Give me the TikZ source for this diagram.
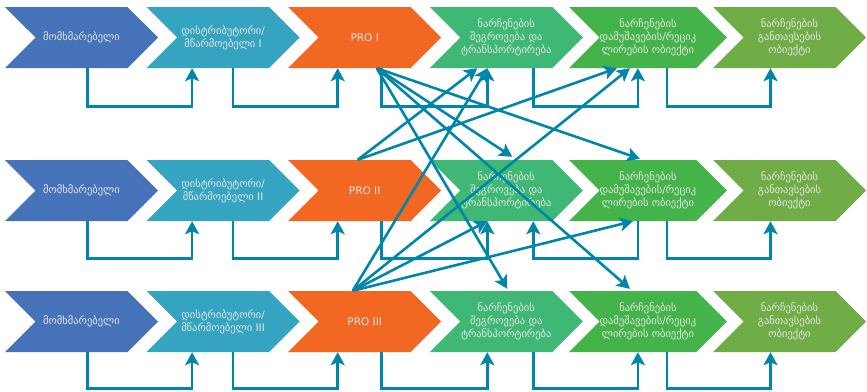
\documentclass[tikz,border=0pt]{standalone}
\usepackage{fontspec}
\setmainfont{DejaVu Sans}
\usepackage{tikz}
\usetikzlibrary{shapes.symbols,arrows.meta}

\definecolor{conblue}{RGB}{70,114,185}
\definecolor{disteal}{RGB}{52,164,192}
\definecolor{proorange}{RGB}{242,103,34}
\definecolor{colgreen}{RGB}{62,184,116}
\definecolor{prcgreen}{RGB}{68,179,74}
\definecolor{dspgreen}{RGB}{112,173,71}
\definecolor{linkblue}{RGB}{0,134,170}

\tikzset{
  chev/.style={signal, signal from=west, signal to=east, signal pointer angle=90,
    minimum width=153pt, minimum height=61pt, inner sep=0pt, draw=none,
    text=white!90!black, align=center, font=\fontsize{10.5}{13}\selectfont},
  fb/.style={draw=linkblue, line width=2.6pt,
    -{Stealth[length=13pt,width=14pt,inset=3pt]}},
}

\begin{document}
\begin{tikzpicture}[x=1pt,y=-1pt]
      \useasboundingbox (0,0) rectangle (867,391);

      % row I
      \node[chev,fill=conblue]   (con1) at (81.5,37.5)  {მომხმარებელი};
      \node[chev,fill=disteal]   (dis1) at (223.1,37.5) {დისტრიბუტორი/\\მწარმოებელი I};
      \node[chev,fill=proorange] (pro1) at (364.7,37.5) {PRO I};
      \node[chev,fill=colgreen]  (col1) at (506.3,37.5) {ნარჩენების\\შეგროვება და\\ტრანსპორტირება};
      \node[chev,fill=prcgreen]  (prc1) at (647.9,37.5) {ნარჩენების\\დამუშავების/რეციკ\\ლირების ობიექტი};
      \node[chev,fill=dspgreen]  (dsp1) at (789.5,37.5) {ნარჩენების\\განთავსების\\ობიექტი};

      % row II
      \node[chev,fill=conblue]   (con2) at (81.5,190.5)  {მომხმარებელი};
      \node[chev,fill=disteal]   (dis2) at (223.1,190.5) {დისტრიბუტორი/\\მწარმოებელი II};
      \node[chev,fill=proorange] (pro2) at (364.7,190.5) {PRO II};
      \node[chev,fill=colgreen]  (col2) at (506.3,190.5) {ნარჩენების\\შეგროვება და\\ტრანსპორტირება};
      \node[chev,fill=prcgreen]  (prc2) at (647.9,190.5) {ნარჩენების\\დამუშავების/რეციკ\\ლირების ობიექტი};
      \node[chev,fill=dspgreen]  (dsp2) at (789.5,190.5) {ნარჩენების\\განთავსების\\ობიექტი};

      % row III
      \node[chev,fill=conblue]   (con3) at (81.5,321.5)  {მომხმარებელი};
      \node[chev,fill=disteal]   (dis3) at (223.1,321.5) {დისტრიბუტორი/\\მწარმოებელი III};
      \node[chev,fill=proorange] (pro3) at (364.7,321.5) {PRO III};
      \node[chev,fill=colgreen]  (col3) at (506.3,321.5) {ნარჩენების\\შეგროვება და\\ტრანსპორტირება};
      \node[chev,fill=prcgreen]  (prc3) at (647.9,321.5) {ნარჩენების\\დამუშავების/რეციკ\\ლირების ობიექტი};
      \node[chev,fill=dspgreen]  (dsp3) at (789.5,321.5) {ნარჩენების\\განთავსების\\ობიექტი};

      % loops under each row
      \draw[fb] ([xshift=6pt]con1.south)  -- ++(0,38) -| ([xshift=-31pt]dis1.south);
      \draw[fb] ([xshift=10pt]dis1.south) -- ++(0,38) -| ([xshift=-27pt]pro1.south);
      \draw[fb] ([xshift=17pt]pro1.south) -- ++(0,38) -| ([xshift=-19pt]col1.south);
      \draw[fb] ([xshift=27pt]col1.south) -- ++(0,38) -| ([xshift=-10pt]prc1.south);
      \draw[fb] ([xshift=19pt]prc1.south) -- ++(0,38) -| ([xshift=-19pt]dsp1.south);

      \draw[fb] ([xshift=6pt]con2.south)  -- ++(0,37) -| ([xshift=-31pt]dis2.south);
      \draw[fb] ([xshift=10pt]dis2.south) -- ++(0,37) -| ([xshift=-27pt]pro2.south);
      \draw[fb] ([xshift=17pt]pro2.south) -- ++(0,37) -| ([xshift=-19pt]col2.south);
      \draw[fb] ([xshift=-10pt]prc2.south) -- ++(0,37) -| ([xshift=27pt]col2.south);
      \draw[fb] ([xshift=19pt]prc2.south) -- ++(0,37) -| ([xshift=-19pt]dsp2.south);

      \draw[fb] ([xshift=6pt]con3.south)  -- ++(0,36) -| ([xshift=-31pt]dis3.south);
      \draw[fb] ([xshift=10pt]dis3.south) -- ++(0,36) -| ([xshift=-27pt]pro3.south);
      \draw[fb] ([xshift=17pt]pro3.south) -- ++(0,36) -| ([xshift=-19pt]col3.south);
      \draw[fb] ([xshift=27pt]col3.south) -- ++(0,36) -| ([xshift=-10pt]prc3.south);
      \draw[fb] ([xshift=19pt]prc3.south) -- ++(0,36) -| ([xshift=-19pt]dsp3.south);

      % links between the rows
      \draw[fb] ([xshift=12pt]pro1.south) -- ([xshift=6pt,yshift=3pt]col2.north);
      \draw[fb] ([xshift=12pt]pro1.south) -- ([xshift=-8pt,yshift=1pt]prc2.north);
      \draw[fb] ([xshift=12pt]pro1.south) -- ([xshift=1pt,yshift=2pt]col3.north);
      \draw[fb] ([xshift=12pt]pro1.south) -- ([xshift=-18pt,yshift=2pt]prc3.north);

      \draw[fb] ([xshift=-7pt]pro2.north) -- ([xshift=-29pt]col1.south);
      \draw[fb] ([xshift=-7pt]pro2.north) -- ([xshift=-31pt]prc1.south);

      \draw[fb] ([xshift=-12pt]pro3.north) -- ([xshift=-19pt]col1.south);
      \draw[fb] ([xshift=-12pt]pro3.north) -- ([xshift=-18pt]prc1.south);
      \draw[fb] ([xshift=-12pt]pro3.north) -- ([xshift=-19pt]col2.south);
      \draw[fb] ([xshift=-12pt]pro3.north) -- ([xshift=-15pt]prc2.south);
    \end{tikzpicture}
\end{document}
